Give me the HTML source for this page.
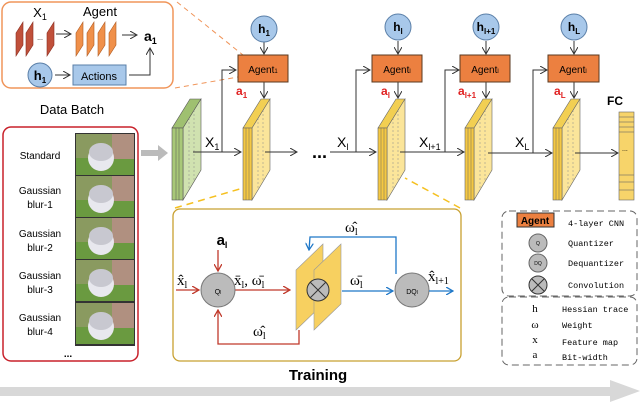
<!DOCTYPE html>
<html><head><meta charset="utf-8"><style>
body{margin:0;background:#fff}
svg{display:block;font-family:"Liberation Sans",sans-serif}
.ser{font-family:"Liberation Serif",serif}
.mono{font-family:"Liberation Mono",monospace}
</style></head><body>
<svg width="640" height="402" viewBox="0 0 640 402" xmlns="http://www.w3.org/2000/svg">
<defs>
<marker id="ar" markerWidth="8" markerHeight="8" refX="7" refY="4" orient="auto" markerUnits="userSpaceOnUse"><path d="M0,0 L7,4 L0,8" fill="none" stroke="#333" stroke-width="1"/></marker>
<marker id="arR" markerWidth="8" markerHeight="8" refX="7" refY="4" orient="auto" markerUnits="userSpaceOnUse"><path d="M0,0 L7,4 L0,8" fill="none" stroke="#c0392b" stroke-width="1.3"/></marker>
<marker id="arB" markerWidth="8" markerHeight="8" refX="7" refY="4" orient="auto" markerUnits="userSpaceOnUse"><path d="M0,0 L7,4 L0,8" fill="none" stroke="#1f78c8" stroke-width="1.3"/></marker>
<g id="slabY">
<polygon points="243,128 261,99 270,99 252,128" fill="#f2cf52" stroke="#666" stroke-width="0.6"/>
<polygon points="252,128 270,99 270,170 252,200" fill="#fbe59a" stroke="#666" stroke-width="0.6"/>
<rect x="243" y="128" width="9" height="72" fill="#f5c842" stroke="#666" stroke-width="0.6"/>
<line x1="246" y1="128" x2="246" y2="200" stroke="#666" stroke-width="0.5"/>
<line x1="249" y1="128" x2="249" y2="200" stroke="#666" stroke-width="0.5"/>
<line x1="258" y1="118" x2="258" y2="190" stroke="#888" stroke-width="0.5" stroke-dasharray="2,2"/>
<line x1="263" y1="110" x2="263" y2="182" stroke="#888" stroke-width="0.5" stroke-dasharray="2,2"/>
</g>
</defs>

<rect x="2" y="2" width="171" height="86" rx="9" fill="#fff" stroke="#f0955a" stroke-width="1.5"/>
<line x1="177" y1="2" x2="243" y2="55" stroke="#f0955a" stroke-dasharray="5,4"/>
<line x1="175" y1="88" x2="238" y2="77" stroke="#f0955a" stroke-dasharray="5,4"/>
<text x="40" y="17" font-size="13" text-anchor="middle">X<tspan font-size="9" dy="3">1</tspan></text>
<text x="100" y="16" font-size="13" text-anchor="middle">Agent</text>
<g fill="#c0503a" stroke="#8a2d20" stroke-width="0.6">
<polygon points="16,33 23,22 23,45 16,56"/><polygon points="26,33 33,22 33,45 26,56"/><polygon points="47,33 54,22 54,45 47,56"/>
</g>
<text x="40" y="40" font-size="7" text-anchor="middle">...</text>
<line x1="56" y1="34" x2="71" y2="34" stroke="#333" marker-end="url(#ar)"/>
<g fill="#f0904a" stroke="#b05a20" stroke-width="0.6">
<polygon points="76,33 83,22 83,45 76,56"/><polygon points="87,33 94,22 94,45 87,56"/><polygon points="98,33 105,22 105,45 98,56"/><polygon points="109,33 116,22 116,45 109,56"/>
</g>
<line x1="122" y1="35" x2="137" y2="35" stroke="#333" marker-end="url(#ar)"/>
<text x="144" y="41" font-size="14" font-weight="bold">a<tspan font-size="9" dy="3">1</tspan></text>
<circle cx="40" cy="75" r="12" fill="#a8c8ea" stroke="#5a7fa8"/>
<text x="40" y="80" font-size="13" text-anchor="middle" font-weight="bold">h<tspan font-size="8" dy="3">1</tspan></text>
<line x1="55" y1="75" x2="70" y2="75" stroke="#333" marker-end="url(#ar)"/>
<rect x="73" y="65" width="53" height="20" fill="#a8c8ea" stroke="#5a7fa8"/>
<text x="99" y="80" font-size="11" text-anchor="middle">Actions</text>
<polyline points="129,75 150,75 150,48" fill="none" stroke="#333" marker-end="url(#ar)"/>

<text x="72" y="114" font-size="13" text-anchor="middle">Data Batch</text>
<rect x="3" y="127" width="135" height="234" rx="8" fill="#fff" stroke="#c8202a" stroke-width="1.5"/>
<g font-size="10" text-anchor="middle">
<text x="40" y="159">Standard</text>
<text x="40" y="194">Gaussian</text><text x="40" y="208">blur-1</text>
<text x="40" y="237">Gaussian</text><text x="40" y="251">blur-2</text>
<text x="40" y="279">Gaussian</text><text x="40" y="293">blur-3</text>
<text x="40" y="321">Gaussian</text><text x="40" y="335">blur-4</text>
<text x="68" y="357" font-weight="bold">...</text>
</g>
<g>
<rect x="75" y="133" width="60" height="213" fill="#333"/>
<g id="cat">
<rect x="76" y="134" width="58" height="41" fill="#8a9a60"/>
<rect x="76" y="158" width="58" height="17" fill="#6a9a40"/>
<rect x="112" y="134" width="22" height="25" fill="#b09080"/>
<ellipse cx="101" cy="158" rx="13" ry="13" fill="#e8e8ee"/>
<ellipse cx="101" cy="152" rx="12" ry="9" fill="#c8c8d0"/>
</g>
<use href="#cat" y="42"/><use href="#cat" y="84"/><use href="#cat" y="126"/><use href="#cat" y="169"/>
</g>
<polygon points="141,150 158,150 158,145 168,153 158,161 158,156 141,156" fill="#bbb"/>

<polygon points="172,128 190,99 201,99 183,128" fill="#9fc070" stroke="#555" stroke-width="0.6"/>
<polygon points="183,128 201,99 201,170 183,200" fill="#d0e2b0" stroke="#555" stroke-width="0.6"/>
<rect x="172" y="128" width="11" height="72" fill="#a8c878" stroke="#555" stroke-width="0.6"/>
<line x1="176" y1="128" x2="176" y2="200" stroke="#555" stroke-width="0.5"/>
<line x1="179" y1="128" x2="179" y2="200" stroke="#555" stroke-width="0.5"/>
<line x1="189" y1="118" x2="189" y2="190" stroke="#888" stroke-width="0.5" stroke-dasharray="2,2"/>
<line x1="194" y1="110" x2="194" y2="182" stroke="#888" stroke-width="0.5" stroke-dasharray="2,2"/>

<use href="#slabY"/>
<use href="#slabY" x="135"/>
<use href="#slabY" x="222"/>
<use href="#slabY" x="310"/>

<g stroke="#333" fill="none">
<line x1="193" y1="152" x2="241" y2="152" marker-end="url(#ar)"/>
<polyline points="222,152 222,70 236,70" marker-end="url(#ar)"/>
<line x1="265" y1="152" x2="297" y2="152" marker-end="url(#ar)"/>
<line x1="330" y1="152" x2="376" y2="152" marker-end="url(#ar)"/>
<polyline points="356,152 356,70 370,70" marker-end="url(#ar)"/>
<line x1="400" y1="152" x2="464" y2="152" marker-end="url(#ar)"/>
<polyline points="445,152 445,70 459,70" marker-end="url(#ar)"/>
<line x1="488" y1="153" x2="552" y2="153" marker-end="url(#ar)"/>
<polyline points="533,153 533,70 547,70" marker-end="url(#ar)"/>
<line x1="575" y1="153" x2="618" y2="153" marker-end="url(#ar)"/>
</g>
<text x="312" y="158" font-size="18" font-weight="bold">...</text>
<g font-size="14">
<text x="205" y="147">X<tspan font-size="9" dy="3">1</tspan></text>
<text x="337" y="147">X<tspan font-size="9" dy="3">l</tspan></text>
<text x="419" y="147">X<tspan font-size="9" dy="3">l+1</tspan></text>
<text x="515" y="147">X<tspan font-size="9" dy="3">L</tspan></text>
</g>

<g>
<g stroke="#333" fill="none">
<line x1="264" y1="42" x2="264" y2="54" marker-end="url(#ar)"/>
<line x1="264" y1="82" x2="264" y2="98" marker-end="url(#ar)"/>
<line x1="398" y1="41" x2="398" y2="54" marker-end="url(#ar)"/>
<line x1="398" y1="82" x2="398" y2="98" marker-end="url(#ar)"/>
<line x1="486" y1="41" x2="486" y2="54" marker-end="url(#ar)"/>
<line x1="486" y1="82" x2="486" y2="98" marker-end="url(#ar)"/>
<line x1="574" y1="41" x2="574" y2="54" marker-end="url(#ar)"/>
<line x1="574" y1="82" x2="574" y2="98" marker-end="url(#ar)"/>
</g>
<g fill="#a8c8ea" stroke="#5a7fa8">
<circle cx="264" cy="29" r="13"/><circle cx="398" cy="27" r="13"/><circle cx="486" cy="27" r="13"/><circle cx="574" cy="27" r="13"/>
</g>
<g font-size="12" font-weight="bold" text-anchor="middle">
<text x="264" y="33">h<tspan font-size="8" dy="3">1</tspan></text>
<text x="398" y="31">h<tspan font-size="8" dy="3">l</tspan></text>
<text x="486" y="31">h<tspan font-size="8" dy="3">l+1</tspan></text>
<text x="574" y="31">h<tspan font-size="8" dy="3">L</tspan></text>
</g>
<g fill="#ec8040" stroke="#5a3a20">
<rect x="238" y="55" width="50" height="27"/><rect x="372" y="55" width="50" height="27"/><rect x="460" y="55" width="50" height="27"/><rect x="548" y="55" width="51" height="27"/>
</g>
<g font-size="10" text-anchor="middle">
<text x="263" y="73">Agent<tspan font-size="6">1</tspan></text>
<text x="397" y="73">Agent<tspan font-size="6">l</tspan></text>
<text x="485" y="73">Agent<tspan font-size="6">l</tspan></text>
<text x="573" y="73">Agent<tspan font-size="6">l</tspan></text>
</g>
<g fill="#e02020" font-size="12" font-weight="bold">
<text x="236" y="95">a<tspan font-size="8" dy="3">1</tspan></text>
<text x="381" y="95">a<tspan font-size="8" dy="3">l</tspan></text>
<text x="458" y="95">a<tspan font-size="8" dy="3">l+1</tspan></text>
<text x="554" y="95">a<tspan font-size="8" dy="3">L</tspan></text>
</g>
</g>

<text x="607" y="105" font-size="12" font-weight="bold">FC</text>
<rect x="619" y="112" width="15" height="88" fill="#f7d46a" stroke="#666" stroke-width="0.6"/>
<g stroke="#666" stroke-width="0.6">
<line x1="619" y1="117" x2="634" y2="117"/><line x1="619" y1="122" x2="634" y2="122"/><line x1="619" y1="127" x2="634" y2="127"/><line x1="619" y1="132" x2="634" y2="132"/><line x1="619" y1="175" x2="634" y2="175"/><line x1="619" y1="182" x2="634" y2="182"/><line x1="619" y1="190" x2="634" y2="190"/>
</g>
<text x="622" y="151" font-size="7">...</text>

<line x1="175" y1="208" x2="243" y2="188" stroke="#f5c020" stroke-width="1.5" stroke-dasharray="7,5"/>
<line x1="460" y1="208" x2="405" y2="178" stroke="#f5c020" stroke-width="1.5" stroke-dasharray="7,5"/>

<rect x="173" y="209" width="288" height="152" rx="7" fill="#fff" stroke="#c8a030" stroke-width="1.3"/>
<text x="222" y="245" font-size="15" font-weight="bold" text-anchor="middle">a<tspan font-size="9" dy="3">l</tspan></text>
<line x1="218" y1="250" x2="218" y2="271" stroke="#c0392b" stroke-width="1.3" marker-end="url(#arR)"/>
<line x1="176" y1="290" x2="199" y2="290" stroke="#c0392b" stroke-width="1.3" marker-end="url(#arR)"/>
<text x="177" y="285" font-size="15" class="ser">x̂<tspan font-size="10" dy="3">l</tspan></text>
<line x1="235" y1="290" x2="290" y2="290" stroke="#c0392b" stroke-width="1.3" marker-end="url(#arR)"/>
<text x="234" y="285" font-size="15" class="ser">x̄<tspan font-size="10" dy="3">l</tspan><tspan dy="-3">, </tspan><tspan>ω̄</tspan><tspan font-size="10" dy="3">l</tspan></text>
<polyline points="299,330 299,344 218,344 218,310" fill="none" stroke="#c0392b" stroke-width="1.3" marker-end="url(#arR)"/>
<text x="253" y="336" font-size="15" class="ser">ω̂<tspan font-size="10" dy="3">l</tspan></text>
<circle cx="218" cy="290" r="17" fill="#bbb" stroke="#777"/>
<text x="218" y="294" font-size="7" text-anchor="middle">Q<tspan font-size="5">l</tspan></text>
<polygon points="296,270 323,244 323,304 296,330" fill="#f7d060" stroke="#999" stroke-width="0.6"/>
<polygon points="314,270 341,244 341,304 314,330" fill="#f7d060" stroke="#999" stroke-width="0.6"/>
<circle cx="318" cy="290" r="11" fill="#bbb" stroke="#333"/>
<path d="M310,282 L326,298 M326,282 L310,298" stroke="#333"/>
<line x1="342" y1="291" x2="393" y2="291" stroke="#1f78c8" stroke-width="1.3" marker-end="url(#arB)"/>
<text x="350" y="285" font-size="15" class="ser">ω̄<tspan font-size="10" dy="3">l</tspan></text>
<polyline points="396,274 396,237 310,237 309,250" fill="none" stroke="#1f78c8" stroke-width="1.3" marker-end="url(#arB)"/>
<text x="345" y="232" font-size="15" class="ser">ω̂<tspan font-size="10" dy="3">l</tspan></text>
<circle cx="412" cy="290" r="17" fill="#bbb" stroke="#777"/>
<text x="412" y="294" font-size="7" text-anchor="middle">DQ<tspan font-size="5">l</tspan></text>
<line x1="429" y1="291" x2="453" y2="291" stroke="#1f78c8" stroke-width="1.3" marker-end="url(#arB)"/>
<text x="412" y="281" font-size="15" class="ser" dx="16">x̂<tspan font-size="10" dy="3">l+1</tspan></text>

<text x="318" y="380" font-size="15" font-weight="bold" text-anchor="middle">Training</text>
<polygon points="0,387 610,387 610,380 640,391 610,402 610,396 0,396" fill="#d8d8d8"/>

<rect x="502" y="211" width="135" height="85" rx="7" fill="none" stroke="#666" stroke-dasharray="7,4"/>
<rect x="502" y="297" width="135" height="68" rx="7" fill="none" stroke="#666" stroke-dasharray="7,4"/>
<rect x="517" y="213" width="37" height="14" fill="#ec8040" stroke="#333"/>
<text x="535" y="224" font-size="10" font-weight="bold" text-anchor="middle">Agent</text>
<circle cx="538" cy="243" r="9" fill="#bbb" stroke="#666"/><text x="538" y="245" font-size="5" text-anchor="middle">Q</text>
<circle cx="538" cy="263" r="9" fill="#bbb" stroke="#666"/><text x="538" y="265" font-size="5" text-anchor="middle">DQ</text>
<circle cx="538" cy="285" r="9" fill="#bbb" stroke="#333"/><path d="M532,279 L544,291 M544,279 L532,291" stroke="#333"/>
<g class="mono" font-size="8.5">
<text x="568" y="226">4-layer CNN</text>
<text x="568" y="246">Quantizer</text>
<text x="568" y="266">Dequantizer</text>
<text x="568" y="288">Convolution</text>
<text x="562" y="312">Hessian trace</text>
<text x="562" y="328">Weight</text>
<text x="562" y="345">Feature map</text>
<text x="562" y="360">Bit-width</text>
</g>
<g class="ser" font-size="11" text-anchor="middle">
<text x="535" y="312">h</text><text x="535" y="328">ω</text><text x="535" y="343">x</text><text x="535" y="358">a</text>
</g>
</svg>
</body></html>
